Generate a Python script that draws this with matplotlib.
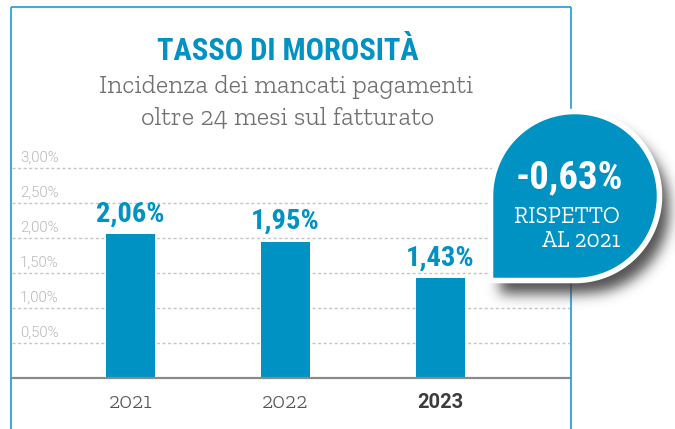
import matplotlib
matplotlib.use("Agg")
import numpy as np
import matplotlib.pyplot as plt
from matplotlib import font_manager
from matplotlib.path import Path
from matplotlib.patches import PathPatch
import matplotlib.transforms as mtransforms

# ---- data ----
years = ["2021", "2022", "2023"]
rates = [2.06, 1.95, 1.43]
grid_values = [0.5, 1.0, 1.5, 2.0, 2.5, 3.0]
title = "TASSO DI MOROSITÀ"
subtitle = ["Incidenza dei mancati pagamenti", "oltre 24 mesi sul fatturato"]
badge_caption = ["RISPETTO", "AL 2021"]

# ---- fonts ----
_avail = {f.name for f in font_manager.fontManager.ttflist}


def pick(*cands):
    for c in cands:
        if c in _avail:
            return c
    return "DejaVu Sans"


COND = pick("Roboto Condensed", "Oswald", "Sofia Sans Condensed", "Saira SemiCondensed")
SLAB = pick("Roboto Slab", "Zilla Slab", "DejaVu Serif")
SANS = pick("Roboto", "Inter", "DejaVu Sans")

BLUE = "#0092c3"
FRAME = "#2fa3d6"
W, H = 675, 429

fig = plt.figure(figsize=(W / 100, H / 100), dpi=100)
fig.patch.set_facecolor("white")

# ---- chart axes (pixel layout) ----
x_left, x_right = 12, 570
base_px, px_per_unit = 378, 70
slot_px, first_px = 155, 130.5
ymax = 3.1
ax = fig.add_axes([x_left / W, (H - base_px) / H,
                   (x_right - x_left) / W, ymax * px_per_unit / H])
ax.set_xlim((x_left - first_px) / slot_px, (x_right - first_px) / slot_px)
ax.set_ylim(0, ymax)
ax.set_facecolor("none")

xs = np.arange(len(years))
ax.bar(xs, rates, width=49 / slot_px, color=BLUE, zorder=3)

for sp in ("top", "left", "right"):
    ax.spines[sp].set_visible(False)
ax.spines["bottom"].set_color("#8a8a8a")
ax.spines["bottom"].set_linewidth(1.6)
ax.spines["bottom"].set_zorder(4)

ax.set_yticks(grid_values)
ax.set_yticklabels([])
ax.tick_params(axis="y", length=0)
ax.yaxis.grid(True, color="#c6c6c6", linestyle=(0, (2.2, 1.8)), linewidth=1.0)
ax.set_axisbelow(True)

ax.set_xticks(xs)
ax.set_xticklabels(years)
ax.tick_params(axis="x", length=0, pad=11)
for i, lab in enumerate(ax.get_xticklabels()):
    if i == len(years) - 1:
        lab.set_fontfamily(SANS)
        lab.set_fontweight("bold")
        lab.set_color("#3c3c3c")
        lab.set_fontsize(14.5)
    else:
        lab.set_fontfamily(SLAB)
        lab.set_fontweight(300)
        lab.set_color("#555555")
        lab.set_fontsize(16)

# y labels sitting above their gridlines
ylab_tr = mtransforms.offset_copy(
    mtransforms.blended_transform_factory(ax.transAxes, ax.transData),
    fig=fig, x=0, y=4.5, units="points")
for g in grid_values:
    ax.text((20 - x_left) / (x_right - x_left), g,
            f"{g:.2f}".replace(".", ",") + "%",
            transform=ylab_tr, ha="left", va="baseline",
            fontsize=10.8, color="#b9b9b9", family=SANS, fontweight=300)

# value labels above bars
for x, v in zip(xs, rates):
    ax.annotate(f"{v:.2f}".replace(".", ",") + "%", (x, v),
                xytext=(0, 9), textcoords="offset points",
                ha="center", va="baseline", fontsize=20.5,
                fontweight="bold", color=BLUE, family=COND)

# ---- decoration layer in pixel coordinates (y downward) ----
deco = fig.add_axes([0, 0, 1, 1], zorder=5)
deco.set_xlim(0, W)
deco.set_ylim(H, 0)
deco.axis("off")
deco.patch.set_alpha(0)

# frame
deco.plot([11, 11], [7, H], color=FRAME, lw=1.3, solid_capstyle="butt")
deco.plot([11, 571], [7, 7], color=FRAME, lw=1.3, solid_capstyle="butt")
deco.plot([571, 571], [7, H], color=FRAME, lw=1.3, solid_capstyle="butt")

# titles
deco.text(288, 60, title, ha="center", va="baseline", fontsize=22,
          fontweight="bold", color=BLUE, family=COND)
deco.text(286, 93, subtitle[0], ha="center", va="baseline", fontsize=19,
          fontweight=300, color="#707070", family=SLAB)
deco.text(288, 124, subtitle[1], ha="center", va="baseline", fontsize=19,
          fontweight=300, color="#707070", family=SLAB)

# badge: circle with the lower-left corner squared
cx, cy, r = 575, 196, 84.5
t = np.linspace(np.pi, 2.5 * np.pi, 240)
verts = np.column_stack([cx + r * np.cos(t), cy + r * np.sin(t)])
verts = np.vstack([verts, [cx - r, cy + r], verts[:1]])
codes = [Path.MOVETO] + [Path.LINETO] * (len(verts) - 2) + [Path.CLOSEPOLY]
badge_path = Path(verts, codes)

# soft drop shadow
gx, gy = np.meshgrid(np.arange(W) + 0.5, np.arange(H) + 0.5)
shadow_path = badge_path.transformed(mtransforms.Affine2D().translate(10, 13))
mask = shadow_path.contains_points(np.column_stack([gx.ravel(), gy.ravel()]))
mask = mask.reshape(H, W).astype(float)
sig = 6.5
k = np.arange(-20, 21)
kern = np.exp(-k ** 2 / (2 * sig ** 2))
kern /= kern.sum()
mask = np.apply_along_axis(lambda m: np.convolve(m, kern, mode="same"), 1, mask)
mask = np.apply_along_axis(lambda m: np.convolve(m, kern, mode="same"), 0, mask)
rgba = np.zeros((H, W, 4))
rgba[..., :3] = 0.25
rgba[..., 3] = np.clip(mask * 0.9, 0, 1)
deco.imshow(rgba, extent=(0, W, H, 0), zorder=2, interpolation="bilinear")
deco.set_xlim(0, W)
deco.set_ylim(H, 0)

deco.add_patch(PathPatch(badge_path, facecolor=BLUE, edgecolor="white",
                         lw=4, zorder=3))

delta = rates[-1] - rates[0]
deco.text(569, 188, f"{delta:.2f}".replace(".", ",") + "%", ha="center",
          va="baseline", fontsize=28, fontweight="bold", color="white",
          family=COND, zorder=4)
deco.text(620, 223, badge_caption[0], ha="right", va="baseline", fontsize=16.5,
          color="white", family=SLAB, zorder=4)
deco.text(620, 247, badge_caption[1], ha="right", va="baseline", fontsize=16.5,
          color="white", family=SLAB, zorder=4)

fig.savefig("out.png", dpi=100, facecolor="white")
